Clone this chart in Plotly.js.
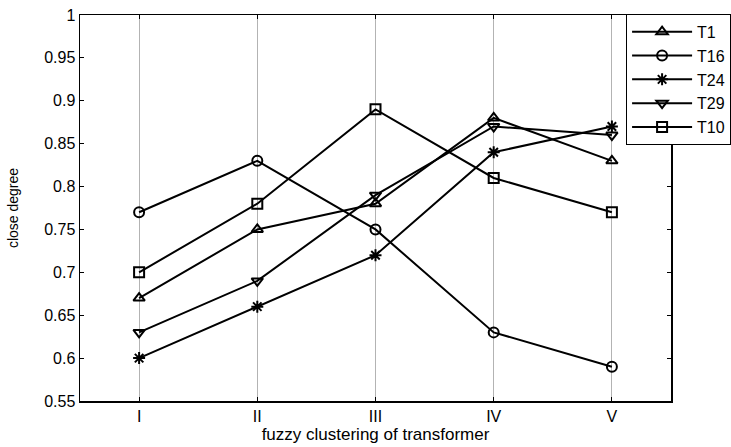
<!DOCTYPE html>
<html>
<head>
<meta charset="utf-8">
<script src="https://cdn.plot.ly/plotly-3.0.1.min.js"></script>
<style>
  html, body { margin: 0; padding: 0; background: #fff; }
  #chart { width: 731px; height: 447px; }
</style>
</head>
<body>
<div id="chart"></div>
<script>
// Cluster positions and their Roman-numeral labels
const clusterPos = [1, 2, 3, 4, 5];
const clusterLabels = ['I', 'II', 'III', 'IV', 'V'];

// Close degree of each transformer to each fuzzy cluster
const t1 = [0.67, 0.75, 0.78, 0.88, 0.83];
const t16 = [0.77, 0.83, 0.75, 0.63, 0.59];
const t24 = [0.60, 0.66, 0.72, 0.84, 0.87];
const t29 = [0.63, 0.69, 0.79, 0.87, 0.86];
const t10 = [0.70, 0.78, 0.89, 0.81, 0.77];

const yTicks = [0.55, 0.6, 0.65, 0.7, 0.75, 0.8, 0.85, 0.9, 0.95, 1];
const yTickText = ['0.55', '0.6', '0.65', '0.7', '0.75', '0.8', '0.85', '0.9', '0.95', '1'];

function series(name, y, symbol) {
  return {
    type: 'scatter',
    mode: 'lines+markers',
    name: name,
    x: clusterPos,
    y: y,
    line: { color: '#000', width: 2 },
    marker: {
      symbol: symbol,
      size: 10,
      color: '#000',
      line: { color: '#000', width: 2 }
    }
  };
}

const data = [
  series('T1', t1, 'triangle-up-open'),
  series('T16', t16, 'circle-open'),
  series('T24', t24, 'asterisk-open'),
  series('T29', t29, 'triangle-down-open'),
  series('T10', t10, 'square-open')
];

const font = { family: 'Arial, "Liberation Sans", sans-serif', color: '#000' };

const layout = {
  width: 731,
  height: 447,
  // fixed margins: the legend is allowed to run past the right edge
  margin: { l: 80, r: 60, t: 15, b: 46, autoexpand: false },
  paper_bgcolor: '#fff',
  plot_bgcolor: '#fff',
  font: Object.assign({ size: 16 }, font),
  showlegend: true,
  legend: {
    x: 0.924, xanchor: 'left',
    y: 1.003, yanchor: 'top',
    bgcolor: '#fff',
    bordercolor: '#000',
    borderwidth: 1,
    font: Object.assign({ size: 16 }, font),
    itemwidth: 60
  },
  xaxis: {
    range: [0.5, 5.5],
    tickvals: clusterPos,
    ticktext: clusterLabels,
    ticks: 'inside',
    ticklen: 4,
    tickcolor: '#000',
    showgrid: true,
    gridcolor: '#b3b3b3',
    gridwidth: 1,
    zeroline: false,
    showline: true,
    linecolor: '#000',
    linewidth: 1.5,
    mirror: 'ticks',
    tickfont: Object.assign({ size: 16 }, font),
    title: { text: 'fuzzy clustering of transformer', font: Object.assign({ size: 17 }, font), standoff: 4 }
  },
  yaxis: {
    range: [0.55, 1],
    tickvals: yTicks,
    ticktext: yTickText,
    ticks: 'inside',
    ticklen: 4,
    tickcolor: '#000',
    showgrid: false,
    zeroline: false,
    showline: true,
    linecolor: '#000',
    linewidth: 1.5,
    mirror: 'ticks',
    tickfont: Object.assign({ size: 16 }, font),
    title: { text: 'close degree', font: Object.assign({ size: 14 }, font), standoff: 22 }
  }
};

Plotly.newPlot('chart', data, layout, { displayModeBar: false, staticPlot: true });
</script>
</body>
</html>
